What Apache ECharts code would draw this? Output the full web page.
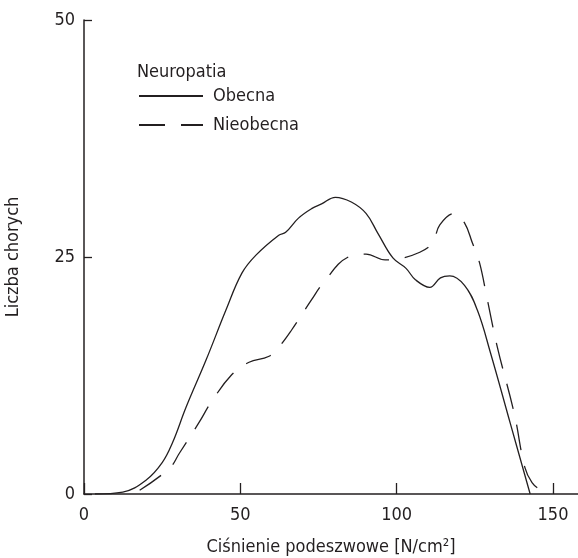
<!DOCTYPE html>
<html>
<head>
<meta charset="utf-8">
<script src="https://cdn.jsdelivr.net/npm/echarts@6/dist/echarts.min.js"></script>
<style>
  html, body { margin: 0; padding: 0; background: #fff; }
  #chart { width: 578px; height: 558px; }
</style>
</head>
<body>
<div id="chart"></div>
<script>
// pressure values [N/cm2] and number of patients
const obecnaX = [3.5, 12.4, 20, 25, 28.3, 32.7, 39, 45.4, 50.5, 55, 62.3, 64.5, 68.6, 72.8, 76, 80.4, 85.5, 90.2, 94, 98.8, 103, 106, 110.6, 114, 117, 121.7, 125.8, 130, 136.3, 142.7];
const obecnaY = [0, 0.2, 1.5, 3.3, 5.4, 9.2, 14.1, 19.4, 23.3, 25.2, 27.3, 27.6, 29.1, 30.1, 30.6, 31.3, 30.8, 29.6, 27.5, 24.9, 23.8, 22.6, 21.8, 22.8, 23, 22, 19.4, 14.9, 7.5, 0];

const nieobecnaX = [17.8, 27.3, 30.5, 36.9, 40.7, 47.3, 52.8, 59, 62.3, 66.4, 72.8, 76.6, 84.5, 90.2, 96.3, 100.4, 107.4, 111.5, 113.8, 118.5, 121.7, 124.2, 126.5, 129, 132.2, 137.6, 141, 143.3, 145.9, 150.3];
const nieobecnaY = [0.4, 2.7, 4.3, 7.6, 9.7, 12.6, 13.9, 14.5, 15.5, 17.3, 20.5, 22.3, 25, 25.3, 24.7, 24.8, 25.5, 26.5, 28.4, 29.6, 28.6, 26.5, 24.4, 20.5, 15.5, 8.5, 2.8, 1.2, 0.5, 0.2];

const xTicks = [0, 50, 100, 150];

const FONT = "'Liberation Sans Narrow', 'DejaVu Sans Condensed', 'Roboto', sans-serif";
const INK = '#231f20';

function pairs(xs, ys) {
  return xs.map((x, i) => [x, ys[i]]);
}

const chart = echarts.init(document.getElementById('chart'));

const option = {
  animation: false,
  backgroundColor: '#fff',
  textStyle: { fontFamily: FONT, color: INK },
  title: {
    text: 'Neuropatia',
    left: 132,
    top: 58,
    textStyle: { fontFamily: FONT, fontSize: 18, fontWeight: 'normal', color: INK }
  },
  legend: {
    orient: 'vertical',
    left: 138,
    top: 87,
    padding: 0,
    itemWidth: 64,
    itemHeight: 14,
    itemGap: 11,
    data: ['Obecna', 'Nieobecna'],
    itemStyle: { opacity: 0 },
    textStyle: { fontFamily: FONT, fontSize: 18, color: INK, padding: [0, 0, 0, 5] }
  },
  grid: { left: 84, right: 0, top: 20, bottom: 64, containLabel: false, outerBoundsMode: 'none' },
  xAxis: {
    type: 'value',
    min: 0,
    max: 158,
    interval: 50,
    name: 'Ciśnienie podeszwowe [N/cm²]',
    nameLocation: 'middle',
    nameGap: 44,
    nameTextStyle: { fontFamily: FONT, fontSize: 18, color: INK },
    axisLine: { lineStyle: { color: INK, width: 1.5 } },
    axisTick: { show: true, inside: true, length: 11, lineStyle: { color: INK, width: 1.3 } },
    axisLabel: { showMaxLabel: false, margin: 12, fontFamily: FONT, fontSize: 18, color: INK,
      formatter: v => (xTicks.indexOf(v) >= 0 ? String(v) : '') },
    splitLine: { show: false }
  },
  yAxis: {
    type: 'value',
    min: 0,
    max: 50,
    interval: 25,
    name: 'Liczba chorych',
    nameLocation: 'middle',
    nameGap: 62,
    nameTextStyle: { fontFamily: FONT, fontSize: 18, color: INK },
    axisLine: { show: true, lineStyle: { color: INK, width: 1.5 } },
    axisTick: { show: true, inside: true, length: 8, lineStyle: { color: INK, width: 1.3 } },
    axisLabel: { margin: 9, fontFamily: FONT, fontSize: 18, color: INK },
    splitLine: { show: false }
  },
  series: [
    {
      name: 'Obecna',
      type: 'line',
      smooth: 0.4,
      symbol: 'none',
      lineStyle: { color: INK, width: 1.3 },
      itemStyle: { color: INK },
      data: pairs(obecnaX, obecnaY)
    },
    {
      name: 'Nieobecna',
      type: 'line',
      smooth: 0.4,
      symbol: 'none',
      lineStyle: { color: INK, width: 1.3, type: [26, 16] },
      itemStyle: { color: INK },
      data: pairs(nieobecnaX, nieobecnaY)
    }
  ]
};

chart.setOption(option);
</script>
</body>
</html>
